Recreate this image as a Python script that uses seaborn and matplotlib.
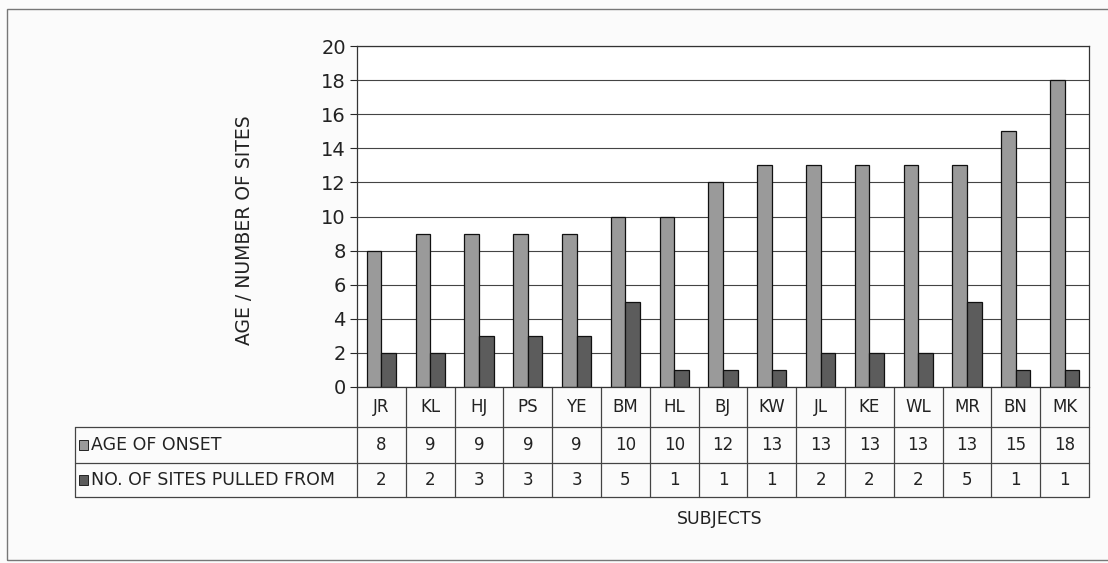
import pandas as pd
import numpy as np
import seaborn as sns
import matplotlib.pyplot as plt
import matplotlib.transforms as mtransforms
from matplotlib.patches import Rectangle

subjects = ["JR", "KL", "HJ", "PS", "YE", "BM", "HL", "BJ", "KW", "JL", "KE", "WL", "MR", "BN", "MK"]
age_onset = [8, 9, 9, 9, 9, 10, 10, 12, 13, 13, 13, 13, 13, 15, 18]
sites_pulled = [2, 2, 3, 3, 3, 5, 1, 1, 1, 2, 2, 2, 5, 1, 1]
series_names = ["AGE OF ONSET", "NO. OF SITES PULLED FROM"]
colors = ["#9a9a9a", "#5c5c5c"]

df = pd.DataFrame({
    "subject": subjects * 2,
    "value": age_onset + sites_pulled,
    "series": [series_names[0]] * len(subjects) + [series_names[1]] * len(subjects),
})

sns.set_style("white")
plt.rcParams['font.family'] = ['DejaVu Sans']
txt = "#222222"

W, H = 1108, 563
fig = plt.figure(figsize=(W / 100, H / 100), dpi=100, facecolor="#fbfbfb")
ax = fig.add_axes([357 / W, 1 - 387 / H, (1089 - 357) / W, (387 - 46) / H])

sns.barplot(data=df, x="subject", y="value", hue="series", palette=colors,
            width=0.6, edgecolor="#111111", linewidth=0.9, ax=ax, legend=False)

ax.set_ylim(0, 20)
ax.set_yticks(range(0, 21, 2))
ax.set_xlim(-0.5, len(subjects) - 0.5)
ax.set_xticks([])
ax.set_xlabel("")
ax.set_ylabel("")
ax.yaxis.grid(True, color="#444444", linewidth=0.8)
ax.set_axisbelow(True)
ax.tick_params(axis="y", left=True, length=5, width=0.8, labelsize=14, labelcolor=txt, pad=3)
for s in ax.spines.values():
    s.set_color("#333333")
    s.set_linewidth(0.9)

fig.text(245 / W, 1 - 230 / H, "AGE / NUMBER OF SITES", rotation=90, ha="center", va="center",
         fontsize=13.5, color=txt)

# data table below the axes
def fy(px):
    return 1 - px / H

tr = mtransforms.blended_transform_factory(ax.transData, fig.transFigure)
lc = "#444444"
n = len(subjects)
for i in range(n + 1):
    ax.plot([i - 0.5, i - 0.5], [fy(387), fy(497)], transform=tr, color=lc, lw=0.9, clip_on=False)
for py in [427, 463, 497]:
    fig.add_artist(plt.Line2D([75 / W, 1089 / W], [fy(py), fy(py)], color=lc, lw=0.9))
fig.add_artist(plt.Line2D([75 / W, 75 / W], [fy(427), fy(497)], color=lc, lw=0.9))

for i, s in enumerate(subjects):
    ax.text(i, fy(407), s, transform=tr, ha="center", va="center", fontsize=12, color=txt)
    ax.text(i, fy(445), str(age_onset[i]), transform=tr, ha="center", va="center", fontsize=12, color=txt)
    ax.text(i, fy(480), str(sites_pulled[i]), transform=tr, ha="center", va="center", fontsize=12, color=txt)

for name, c, py in zip(series_names, colors, [445, 480]):
    fig.add_artist(Rectangle((79 / W, fy(py + 5)), 9 / W, 10 / H, facecolor=c,
                             edgecolor="#222222", lw=0.7))
    fig.text(91 / W, fy(py), name, ha="left", va="center", fontsize=12.5, color=txt)

fig.text(720 / W, fy(519), "SUBJECTS", ha="center", va="center", fontsize=12.5, color=txt)

# outer chart frame
fig.add_artist(Rectangle((7 / W, fy(560)), 1.2, (560 - 9) / H, fill=False,
                         edgecolor="#777777", lw=1.0))

fig.savefig("out.png", dpi=100, facecolor=fig.get_facecolor())
